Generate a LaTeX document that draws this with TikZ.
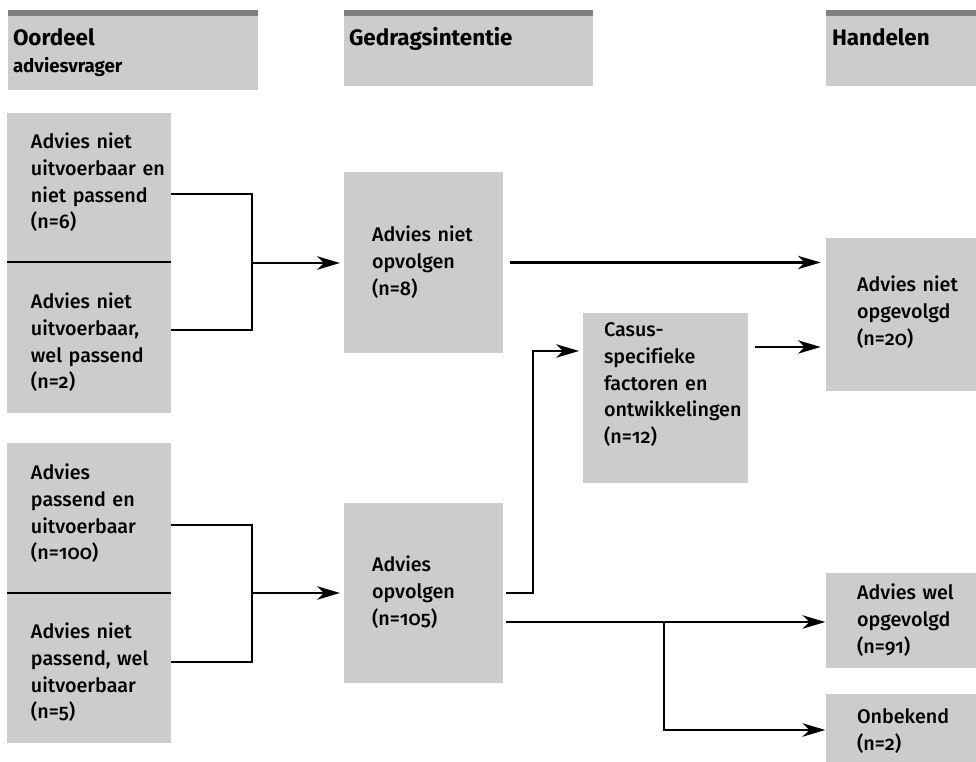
\documentclass[tikz,border=0pt]{standalone}
\usepackage{fontspec}
\setmainfont{Fira Sans}[UprightFont=* Medium, BoldFont=* Bold, Numbers=OldStyle, Ligatures=NoCommon]
\usetikzlibrary{arrows.meta,fit}
\definecolor{boxgray}{RGB}{204,204,204}
\definecolor{bargray}{RGB}{128,128,128}
\tikzset{
  box/.style={fill=boxgray, draw=none, inner sep=0pt, outer sep=0pt},
  txt/.style={anchor=base west, inner sep=0pt, outer sep=0pt, text width=170pt, align=left,
    font=\fontsize{14.8pt}{20pt}\selectfont},
  htxt/.style={anchor=base west, inner sep=0pt, outer sep=0pt, font=\bfseries\fontsize{16.8pt}{20pt}\selectfont},
  hsub/.style={anchor=base west, inner sep=0pt, outer sep=0pt, font=\bfseries\fontsize{14pt}{16pt}\selectfont},
  thinln/.style={line width=0.8pt, black},
  arr/.style={line width=2pt, black, -{Stealth[length=17pt,width=10pt,inset=5pt]}, shorten >=3pt},
}
\begin{document}
\begin{tikzpicture}[x=0.75pt,y=-0.75pt]
\useasboundingbox (0,0) rectangle (976,762);
% headers
\node[box, fit={(8,10)(258,90)}] (H1) {};
\node[box, fit={(344,10)(593,86)}] (H2) {};
\node[box, fit={(826,10)(976,86)}] (H3) {};
\fill[bargray] (H1.north west) rectangle ([yshift=-4.5pt]H1.north east);
\fill[bargray] (H2.north west) rectangle ([yshift=-4.5pt]H2.north east);
\fill[bargray] (H3.north west) rectangle ([yshift=-4.5pt]H3.north east);
\node[htxt] (h1) at (13,46) {Oordeel};
\node[hsub] (h1b) at (13,72.7) {adviesvrager};
\node[htxt] (h2) at (349,46) {Gedragsintentie};
\node[htxt] (h3) at (832,46) {Handelen};
% left boxes
\node[box, fit={(7,113)(171,262)}] (L1) {};
\node[box, fit={(7,262)(171,413)}] (L2) {};
\node[box, fit={(7,443)(171,593)}] (L3) {};
\node[box, fit={(7,593)(171,743)}] (L4) {};
\draw[thinln] (L1.south west) -- (L1.south east);
\draw[thinln] (L3.south west) -- (L3.south east);
\node[txt] (tL1) at (31,149) {Advies niet\\uitvoerbaar en\\niet passend\\(n=6)};
\node[txt] (tL2) at (31,309) {Advies niet\\uitvoerbaar,\\wel passend\\(n=2)};
\node[txt] (tL3) at (31,480) {Advies\\passend en\\uitvoerbaar\\(n=100)};
\node[txt] (tL4) at (31,639) {Advies niet\\passend, wel\\uitvoerbaar\\(n=5)};
% middle boxes
\node[box, fit={(344,172)(503,353)}] (M1) {};
\node[box, fit={(344,503)(503,683)}] (M2) {};
\node[box, fit={(583,313)(748,483)}] (C) {};
\node[txt] (tM1) at (372,242) {Advies niet\\opvolgen\\(n=8)};
\node[txt] (tM2) at (372,572) {Advies\\opvolgen\\(n=105)};
\node[txt] (tC) at (604,337) {Casus-\\specifieke\\factoren en\\ontwikkelingen\\(n=12)};
% right boxes
\node[box, fit={(826,238)(976,391)}] (R1) {};
\node[box, fit={(826,573)(976,668)}] (R2) {};
\node[box, fit={(826,694)(976,762)}] (R3) {};
\node[txt] (tR1) at (857,292) {Advies niet\\opgevolgd\\(n=20)};
\node[txt] (tR2) at (857,600) {Advies wel\\opgevolgd\\(n=91)};
\node[txt] (tR3) at (857,724) {Onbekend\\(n=2)};
% connectors
\coordinate (j1) at (252,263);
\coordinate (j2) at (252,593);
\coordinate (c1) at (533,351);
\coordinate (c2) at (755,347);
\coordinate (b1) at (664,622);
\coordinate (b2) at (664,730);
\draw[thinln] (L1.east |- 0,194) -| (j1) |- (L2.east |- 0,330);
\draw[thinln] (L3.east |- 0,525) -| (j2) |- (L4.east |- 0,662);
\draw[arr] (j1) -- (M1.west |- j1);
\draw[arr] (j2) -- (M2.west |- j2);
\draw[arr, shorten <=5pt, shorten >=4pt] (M1.east) -- (R1.west |- M1.east);
\draw[arr, shorten <=2.5pt] (M2.east) -| (c1) -- (C.west |- c1);
\draw[arr, shorten <=2.5pt, shorten >=0.5pt] (M2.east |- b1) -- (R2.west |- b1);
\draw[arr, shorten >=0.5pt] (b1) -- (b2) -- (R3.west |- b2);
\draw[arr, shorten >=4pt] (c2) -- (R1.west |- c2);
\end{tikzpicture}
\end{document}
